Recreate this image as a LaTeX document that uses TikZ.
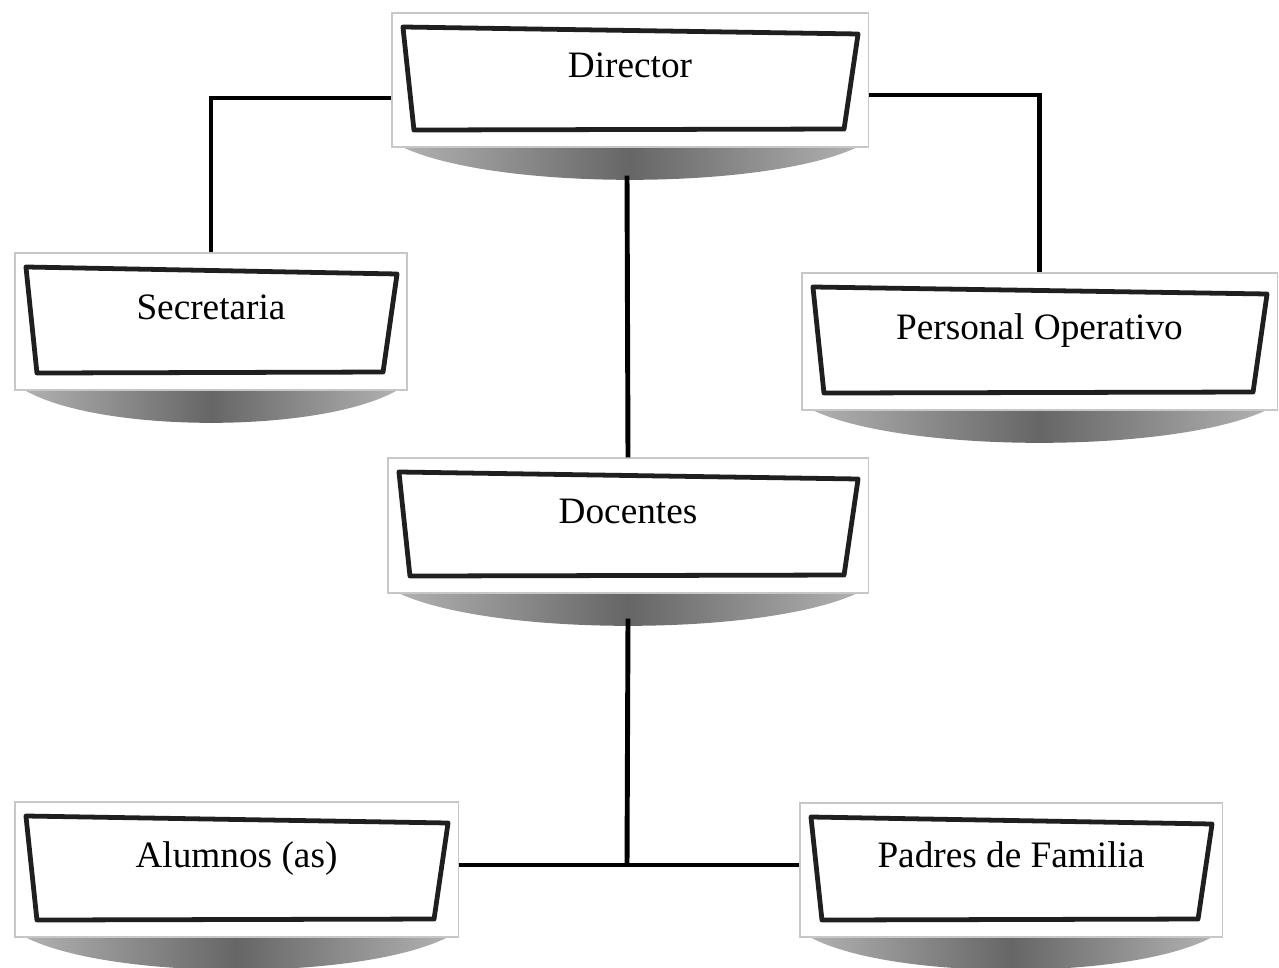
\documentclass[tikz,border=0pt]{standalone}
\usepackage{fontspec}
\setmainfont{Liberation Serif}
\usetikzlibrary{calc,backgrounds}

\begin{document}
\begin{tikzpicture}[x=0.025cm,y=-0.025cm,
    card/.style={draw=black!22, line width=0.8pt, fill=white, inner sep=0pt,
      path picture={
        \draw[line width=3.4pt, black!88, line join=round]
          ($(path picture bounding box.north west)+(0.275cm,-0.35cm)$)
          -- ($(path picture bounding box.north east)+(-0.25cm,-0.525cm)$)
          -- ($(path picture bounding box.south east)+(-0.6cm,0.45cm)$)
          -- ($(path picture bounding box.south west)+(0.55cm,0.425cm)$) -- cycle;
      }},
    title/.style={font=\fontsize{26.5}{30}\selectfont, text height=0.7em, text depth=0.2em, yshift=0.15cm},
    link/.style={line width=3.5pt}]
    \useasboundingbox (0,0) rectangle (1279,967);

    % --- Boxes ---
    \node[card, minimum width=11.9cm, minimum height=3.35cm, label={[title]center:Director}] (dir) at (630,80) {};
    \node[card, minimum width=9.8cm, minimum height=3.425cm, label={[title]center:Secretaria}] (sec) at (211,321.5) {};
    \node[card, minimum width=11.875cm, minimum height=3.425cm, label={[title]center:Personal Operativo}] (per) at (1039.5,341.5) {};
    \node[card, minimum width=12cm, minimum height=3.375cm, label={[title]center:Docentes}] (doc) at (628,525.5) {};
    \node[card, minimum width=11.075cm, minimum height=3.375cm, label={[title]center:Alumnos (as)}] (alu) at (236.5,869.5) {};
    \node[card, minimum width=10.55cm, minimum height=3.35cm, label={[title]center:Padres de Familia}] (pad) at (1011,870) {};

    % Shadows under the boxes
    \begin{pgfonlayer}{background}
        \foreach \n in {dir,sec,per,doc,alu,pad}
            \shade[left color=black!30, right color=black!30, middle color=black!60]
                ($(\n.south west)+(6,-3)$)
                .. controls ($(\n.south west)!0.2!(\n.south east)+(0,44)$)
                and ($(\n.south west)!0.8!(\n.south east)+(0,44)$)
                .. ($(\n.south east)+(-6,-3)$) -- cycle;
    \end{pgfonlayer}

    % --- Connectors ---
    \draw[link] ($(dir.west)+(0,18)$) -| (sec.north);
    \draw[link] ($(dir.east)+(0,15)$) -| (per.north);
    \draw[link] ($(dir.south)+(-3,28)$) -- (doc.north);

    \coordinate (fork) at (627,865);
    \draw[link] ($(doc.south)+(0,25)$) -- (fork);
    \draw[link] (alu.east |- fork) -- (pad.west |- fork);
\end{tikzpicture}
\end{document}
